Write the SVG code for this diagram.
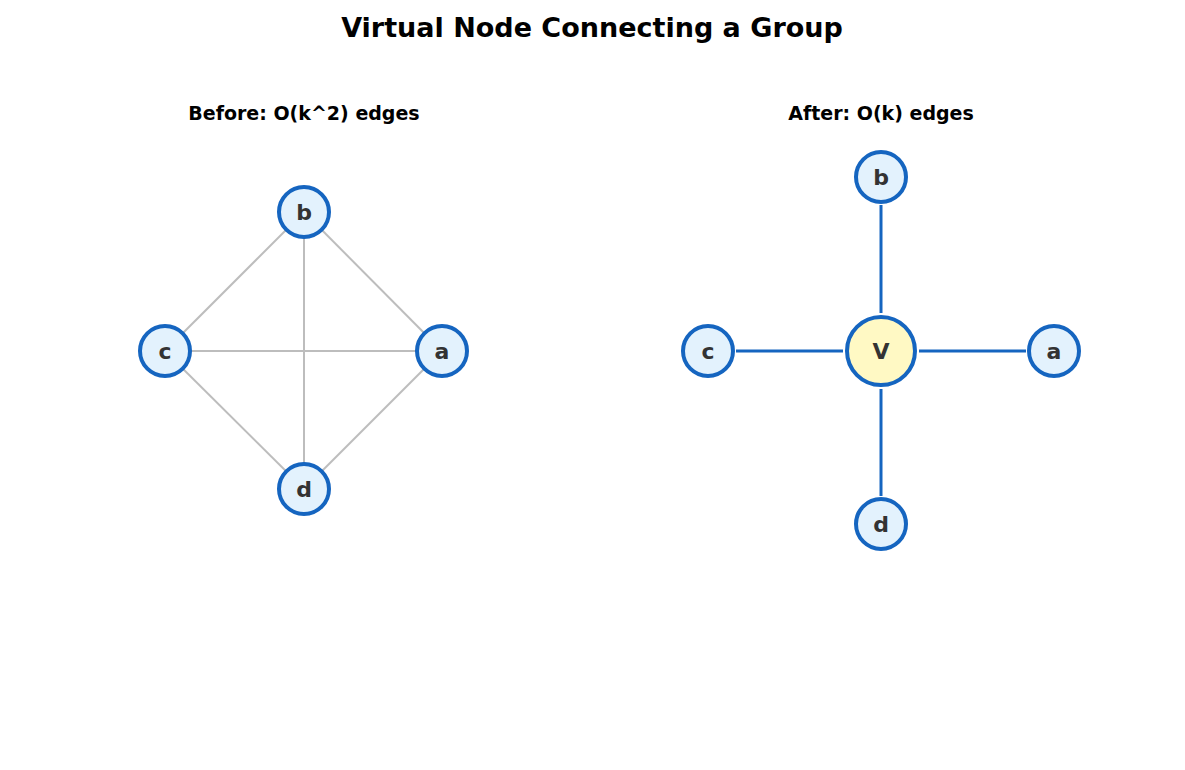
<svg xmlns="http://www.w3.org/2000/svg" width="1185" height="770" viewBox="0 0 1185 770">
<style>
text{font-family:"DejaVu Sans",sans-serif;font-weight:bold;text-anchor:middle}
.t{font-size:27px;fill:#000}
.s{font-size:19px;fill:#000}
.n circle{fill:#e3f2fd;stroke:#1565c0;stroke-width:4}
.n text{font-size:22px;fill:#333;dominant-baseline:central}
.v circle{fill:#fff9c4}
.g line{stroke:#bdbdbd;stroke-width:2}
.b line{stroke:#1565c0;stroke-width:3}
</style>
<rect width="1185" height="770" fill="#fff"/>
<text class="t" x="592" y="37">Virtual Node Connecting a Group</text>
<text class="s" x="304" y="120">Before: O(k^2) edges</text>
<text class="s" x="881" y="120">After: O(k) edges</text>
<g id="connectors">
<g class="g">
<line x1="304" y1="212" x2="165" y2="351"/><line x1="304" y1="212" x2="442" y2="351"/>
<line x1="304" y1="212" x2="304" y2="489"/><line x1="165" y1="351" x2="442" y2="351"/>
<line x1="165" y1="351" x2="304" y2="489"/><line x1="442" y1="351" x2="304" y2="489"/>
</g>
<g class="b">
<line x1="881" y1="205" x2="881" y2="313"/><line x1="881" y1="389" x2="881" y2="496"/>
<line x1="736" y1="351" x2="843" y2="351"/><line x1="919" y1="351" x2="1026" y2="351"/>
</g>
</g>
<g id="L-b" class="n"><circle cx="304" cy="212" r="25"/><text x="304" y="212">b</text></g>
<g id="L-c" class="n"><circle cx="165" cy="351" r="25"/><text x="165" y="351">c</text></g>
<g id="L-a" class="n"><circle cx="442" cy="351" r="25"/><text x="442" y="351">a</text></g>
<g id="L-d" class="n"><circle cx="304" cy="489" r="25"/><text x="304" y="489">d</text></g>
<g id="R-b" class="n"><circle cx="881" cy="177" r="25"/><text x="881" y="177">b</text></g>
<g id="R-c" class="n"><circle cx="708" cy="351" r="25"/><text x="708" y="351">c</text></g>
<g id="R-a" class="n"><circle cx="1054" cy="351" r="25"/><text x="1054" y="351">a</text></g>
<g id="R-d" class="n"><circle cx="881" cy="524" r="25"/><text x="881" y="524">d</text></g>
<g id="R-V" class="n v"><circle cx="881" cy="351" r="34"/><text x="881" y="351">V</text></g>
</svg>
